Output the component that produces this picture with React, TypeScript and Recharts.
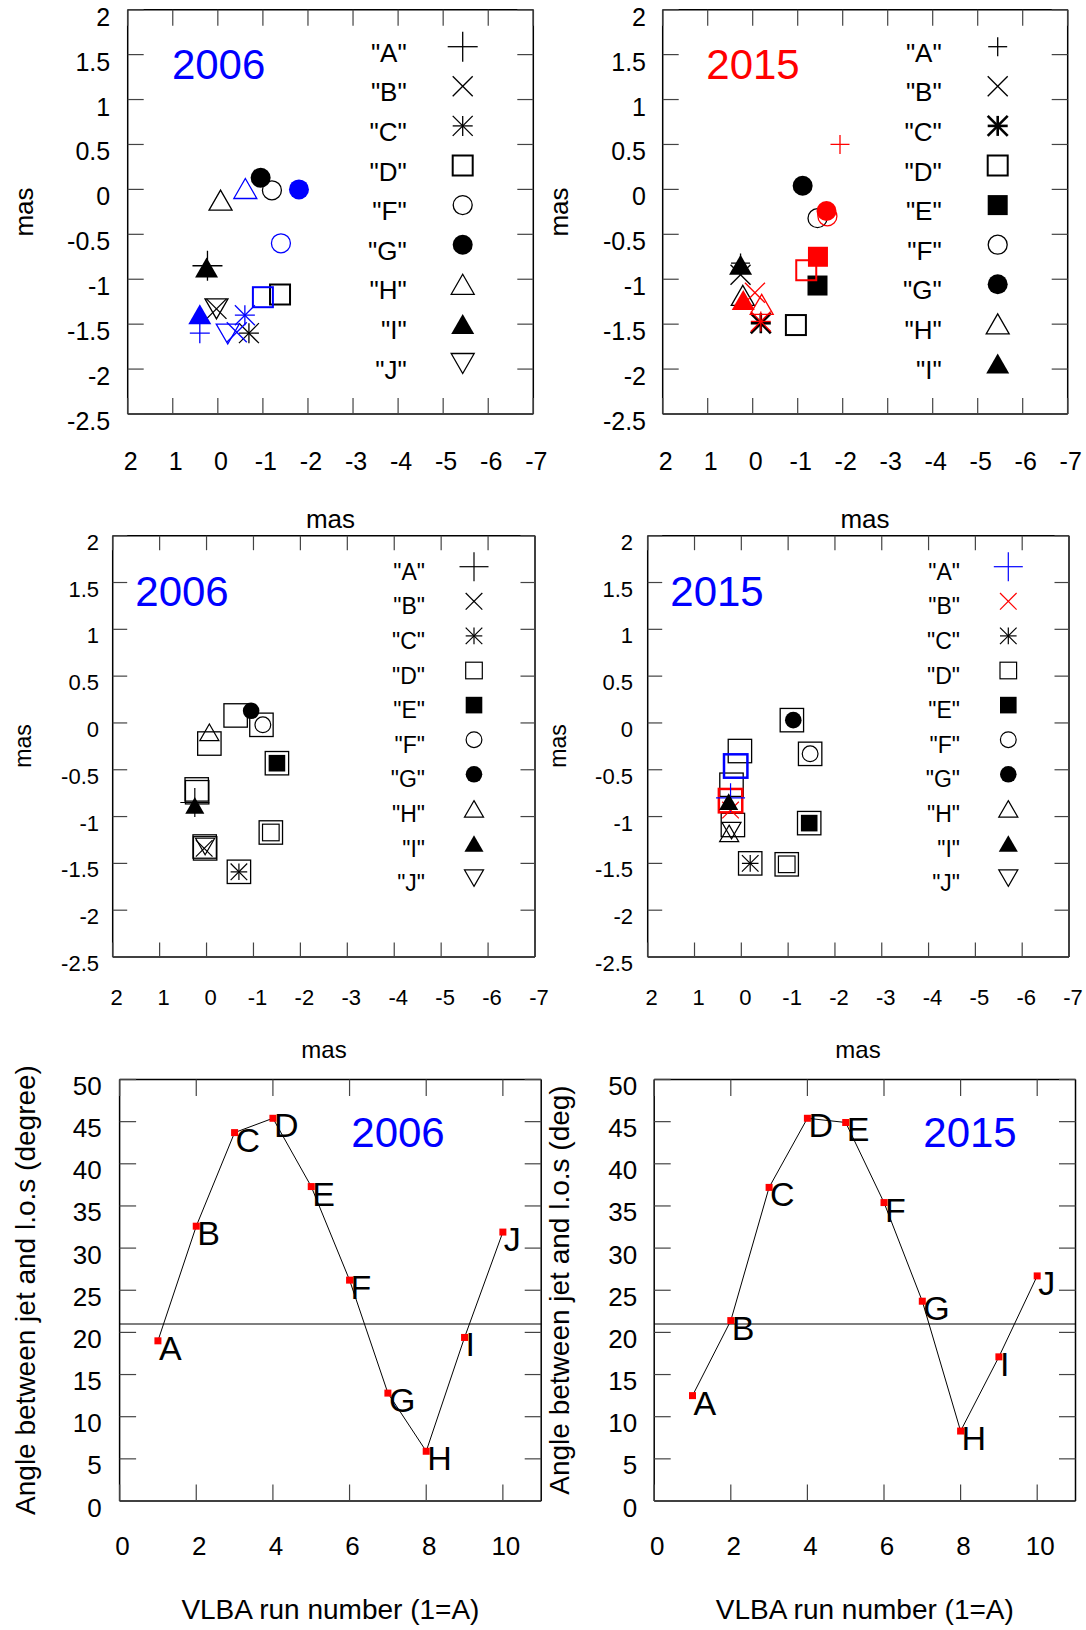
import React from "react";
import {
  ScatterChart,
  Scatter,
  LineChart,
  Line,
  XAxis,
  YAxis,
  ReferenceLine,
  LabelList,
} from "recharts";

const FONT = '"Liberation Sans", Arial, Helvetica, sans-serif';
const BLUE = "#0000ff";
const RED = "#ff0000";
const TICK = "#444";

// component names
const LETTERS = ["A", "B", "C", "D", "E", "F", "G", "H", "I", "J"];

// axis ticks
const MAS_X_TICKS = [2, 1, 0, -1, -2, -3, -4, -5, -6, -7];
const MAS_Y_TICKS = [2, 1.5, 1, 0.5, 0, -0.5, -1, -1.5, -2, -2.5];
const RUN_TICKS = [0, 2, 4, 6, 8, 10];
const ANGLE_TICKS = [0, 5, 10, 15, 20, 25, 30, 35, 40, 45, 50];
const CRITICAL_ANGLE = 21;

// 2006 component offsets (mas), two fits
const map06Letters = ["A", "B", "C", "D", "F", "G", "H", "I", "J"];
const map06BlackX = [0.23, 0.03, -0.69, -1.38, -1.2, -0.95, -0.06, 0.25, 0.03];
const map06BlackY = [-0.85, -1.33, -1.6, -1.17, -0.01, 0.13, -0.12, -0.87, -1.33];
const map06BlueX = [0.4, -0.42, -0.6, -1.0, -1.4, -1.8, -0.61, 0.4, -0.22];
const map06BlueY = [-1.6, -1.59, -1.4, -1.2, -0.6, 0.0, 0.01, -1.39, -1.61];

// 2015 component offsets (mas), two fits
const map15Letters = ["A", "B", "C", "D", "E", "F", "G", "H", "I"];
const map15BlackX = [0.27, 0.27, -0.18, -0.96, -1.44, -1.44, -1.11, 0.22, 0.27];
const map15BlackY = [-0.82, -0.95, -1.49, -1.51, -1.07, -0.32, 0.04, -1.18, -0.84];
const map15RedX = [-1.94, -0.05, -0.18, -1.19, -1.45, -1.66, -1.64, -0.2, 0.21];
const map15RedY = [0.5, -1.15, -1.47, -0.9, -0.75, -0.3, -0.24, -1.28, -1.23];

// 2006 model positions with box markers
const fit06X = [0.25, 0.05, -0.69, -1.37, -1.5, -1.2, -0.95, -0.06, 0.25, 0.03];
const fit06Y = [-0.85, -1.34, -1.59, -1.17, -0.43, -0.02, 0.13, -0.1, -0.88, -1.32];
const box06X = [-0.62, -1.17, -0.06, -1.5, 0.21, 0.2, -1.37, 0.04, 0.03, -0.69];
const box06Y = [0.08, -0.02, -0.22, -0.43, -0.71, -0.74, -1.17, -1.32, -1.34, -1.59];

// 2015 model positions with box markers
const fit15X = [0.23, 0.23, -0.19, -0.97, -1.45, -1.47, -1.11, 0.26, 0.27, 0.21];
const fit15Y = [-0.8, -0.93, -1.5, -1.51, -1.07, -0.33, 0.03, -1.18, -0.84, -1.15];
const box15X = [-1.08, -1.47, -1.45, -0.97, -0.19, 0.03, 0.21, 0.18];
const box15Y = [0.03, -0.33, -1.07, -1.51, -1.5, -0.3, -0.66, -1.09];
const box15BlueX = [0.12];
const box15BlueY = [-0.46];
const box15RedX = [0.23];
const box15RedY = [-0.83];

// jet angle to line of sight per VLBA run
const runs = [1, 2, 3, 4, 5, 6, 7, 8, 9, 10];
const angle06 = [19.0, 32.6, 43.7, 45.4, 37.3, 26.2, 12.8, 5.9, 19.4, 31.9];
const angle15 = [12.5, 21.4, 37.2, 45.4, 44.9, 35.4, 23.7, 8.3, 17.1, 26.7];

const KIND: Record<string, string> = {
  A: "plus",
  B: "cross",
  C: "star",
  D: "square",
  E: "squareFill",
  F: "circle",
  G: "circleFill",
  H: "tri",
  I: "triFill",
  J: "triDown",
};

type Pt = { x: number; y: number; letter: string };
type Plot = { left: number; top: number; right: number; bottom: number };
type Box = { x: number; y: number; w: number; h: number };
type MarkStyle = { r: number; plus: number; sw: number; sq: number; star: number };

const pts = (letters: string[], xs: number[], ys: number[]): Pt[] =>
  xs.map((x, i) => ({ x, y: ys[i], letter: letters[i] || "" }));

const ST_06: MarkStyle = { r: 10, plus: 15, sw: 1.3, sq: 2, star: 1.3 };
const ST_06_BLUE: MarkStyle = { ...ST_06, plus: 10 };
const ST_15: MarkStyle = { r: 10, plus: 9.5, sw: 1.3, sq: 2, star: 2.6 };
const ST_15_RED: MarkStyle = { ...ST_15, star: 1.3 };
const ST_MID: MarkStyle = { r: 8.3, plus: 14.5, sw: 1.2, sq: 1.2, star: 1.2 };

function Mark({
  kind,
  cx,
  cy,
  color,
  st,
}: {
  kind: string;
  cx: number;
  cy: number;
  color: string;
  st: MarkStyle;
}) {
  const r = st.r;
  const w = r * 1.15;
  switch (kind) {
    case "plus":
      return (
        <g stroke={color} strokeWidth={st.sw}>
          <line x1={cx - st.plus} y1={cy} x2={cx + st.plus} y2={cy} />
          <line x1={cx} y1={cy - st.plus} x2={cx} y2={cy + st.plus} />
        </g>
      );
    case "cross":
      return (
        <g stroke={color} strokeWidth={st.sw}>
          <line x1={cx - r} y1={cy - r} x2={cx + r} y2={cy + r} />
          <line x1={cx - r} y1={cy + r} x2={cx + r} y2={cy - r} />
        </g>
      );
    case "star":
      return (
        <g stroke={color} strokeWidth={st.star}>
          <line x1={cx - r} y1={cy} x2={cx + r} y2={cy} />
          <line x1={cx} y1={cy - r} x2={cx} y2={cy + r} />
          <line x1={cx - r} y1={cy - r} x2={cx + r} y2={cy + r} />
          <line x1={cx - r} y1={cy + r} x2={cx + r} y2={cy - r} />
        </g>
      );
    case "square":
      return (
        <rect x={cx - r} y={cy - r} width={2 * r} height={2 * r} fill="none" stroke={color} strokeWidth={st.sq} />
      );
    case "squareFill":
      return <rect x={cx - r} y={cy - r} width={2 * r} height={2 * r} fill={color} />;
    case "circle":
      return <circle cx={cx} cy={cy} r={r * 0.95} fill="none" stroke={color} strokeWidth={st.sw} />;
    case "circleFill":
      return <circle cx={cx} cy={cy} r={r} fill={color} />;
    case "tri":
      return (
        <polygon
          points={`${cx},${cy - r} ${cx + w},${cy + r} ${cx - w},${cy + r}`}
          fill="none"
          stroke={color}
          strokeWidth={st.sw}
        />
      );
    case "triFill":
      return <polygon points={`${cx},${cy - r} ${cx + w},${cy + r} ${cx - w},${cy + r}`} fill={color} />;
    case "triDown":
      return (
        <polygon
          points={`${cx},${cy + r} ${cx + w},${cy - r} ${cx - w},${cy - r}`}
          fill="none"
          stroke={color}
          strokeWidth={st.sw}
        />
      );
    default:
      return <g />;
  }
}

const symbolShape =
  (st: MarkStyle, colorOf: (l: string) => string) =>
  (p: any) =>
    <Mark kind={KIND[p.payload.letter]} cx={p.cx} cy={p.cy} color={colorOf(p.payload.letter)} st={st} />;

const boxShape = (half: number, color: string, sw: number) => (p: any) =>
  <rect x={p.cx - half} y={p.cy - half} width={2 * half} height={2 * half} fill="none" stroke={color} strokeWidth={sw} />;

const black = () => "#000";

type AxisCfg = {
  len: number;
  fs: number;
  xBase: number;
  xDx: number;
  yGap: number;
  yBase: number;
};

const fmt = (v: any) => String(v);

// tick renderers: the label plus an inward tick mark
const bottomTick = (c: AxisCfg) => (p: any) =>
  (
    <g>
      <line x1={p.x} y1={p.y} x2={p.x} y2={p.y - c.len} stroke={TICK} strokeWidth={1.2} />
      <text x={p.x + c.xDx} y={p.y + c.xBase} textAnchor="middle" fontSize={c.fs} fontFamily={FONT} fill="#000">
        {fmt(p.payload.value)}
      </text>
    </g>
  );

const leftTick = (c: AxisCfg) => (p: any) =>
  (
    <g>
      <line x1={p.x} y1={p.y} x2={p.x + c.len} y2={p.y} stroke={TICK} strokeWidth={1.2} />
      <text x={p.x - c.yGap} y={p.y + c.yBase} textAnchor="end" fontSize={c.fs} fontFamily={FONT} fill="#000">
        {fmt(p.payload.value)}
      </text>
    </g>
  );

const topTick = (len: number) => (p: any) =>
  <line x1={p.x} y1={p.y} x2={p.x} y2={p.y + len} stroke={TICK} strokeWidth={1.2} />;

const rightTick = (len: number) => (p: any) =>
  <line x1={p.x} y1={p.y} x2={p.x - len} y2={p.y} stroke={TICK} strokeWidth={1.2} />;

// every axis takes 1px of room, so the margins leave that out
const AX = 1;
const marginOf = (box: Box, plot: Plot) => ({
  left: plot.left - box.x - AX,
  top: plot.top - box.y - AX,
  right: box.x + box.w - plot.right - AX,
  bottom: box.y + box.h - plot.bottom - AX,
});

const FRAME = { stroke: "#000", strokeWidth: 1.5 };

const axisBase = {
  type: "number" as const,
  interval: 0 as const,
  tickSize: 0,
  tickMargin: 0,
  axisLine: FRAME,
  tickLine: false,
  allowDataOverflow: true,
};

type Series = { key: string; data: Pt[]; shape: (p: any) => React.ReactElement };

function MapPanel({ box, plot, cfg, series }: { box: Box; plot: Plot; cfg: AxisCfg; series: Series[] }) {
  return (
    <div style={{ position: "absolute", left: box.x, top: box.y }}>
      <ScatterChart width={box.w} height={box.h} margin={marginOf(box, plot)}>
        <XAxis
          {...axisBase}
          xAxisId="b"
          dataKey="x"
          domain={[-7, 2]}
          reversed
          ticks={MAS_X_TICKS}
          height={AX}
          tick={bottomTick(cfg)}
        />
        <XAxis
          {...axisBase}
          xAxisId="t"
          orientation="top"
          dataKey="x"
          domain={[-7, 2]}
          reversed
          ticks={MAS_X_TICKS}
          height={AX}
          tick={topTick(cfg.len)}
        />
        <YAxis
          {...axisBase}
          yAxisId="l"
          dataKey="y"
          domain={[-2.5, 2]}
          ticks={MAS_Y_TICKS}
          width={AX}
          tick={leftTick(cfg)}
        />
        <YAxis
          {...axisBase}
          yAxisId="r"
          orientation="right"
          dataKey="y"
          domain={[-2.5, 2]}
          ticks={MAS_Y_TICKS}
          width={AX}
          tick={rightTick(cfg.len)}
        />
        {series.map((s) => (
          <Scatter
            key={s.key}
            xAxisId="b"
            yAxisId="l"
            data={s.data}
            shape={s.shape}
            isAnimationActive={false}
          />
        ))}
      </ScatterChart>
    </div>
  );
}

const redDot = (p: any) => (
  <rect key={`dot-${p.index}`} x={p.cx - 3.5} y={p.cy - 3.5} width={7} height={7} fill={RED} />
);

const letterLabel = (p: any) => {
  const x = p.x ?? p.viewBox?.x;
  const y = p.y ?? p.viewBox?.y;
  return (
    <text key={`lab-${p.index}`} x={x + 1} y={y + 19} fontSize={34} fontFamily={FONT} fill="#000">
      {p.value}
    </text>
  );
};

function AnglePanel({ box, plot, cfg, angles }: { box: Box; plot: Plot; cfg: AxisCfg; angles: number[] }) {
  const data = runs.map((run, i) => ({ run, angle: angles[i], letter: LETTERS[i] }));
  return (
    <div style={{ position: "absolute", left: box.x, top: box.y }}>
      <LineChart width={box.w} height={box.h} margin={marginOf(box, plot)} data={data}>
        <XAxis
          {...axisBase}
          xAxisId="b"
          dataKey="run"
          domain={[0, 11]}
          ticks={RUN_TICKS}
          height={AX}
          tick={bottomTick(cfg)}
        />
        <XAxis
          {...axisBase}
          xAxisId="t"
          orientation="top"
          dataKey="run"
          domain={[0, 11]}
          ticks={RUN_TICKS}
          height={AX}
          tick={topTick(cfg.len)}
        />
        <YAxis
          {...axisBase}
          yAxisId="l"
          domain={[0, 50]}
          ticks={ANGLE_TICKS}
          width={AX}
          tick={leftTick(cfg)}
        />
        <YAxis
          {...axisBase}
          yAxisId="r"
          orientation="right"
          domain={[0, 50]}
          ticks={ANGLE_TICKS}
          width={AX}
          tick={rightTick(cfg.len)}
        />
        <ReferenceLine xAxisId="b" yAxisId="l" y={CRITICAL_ANGLE} stroke="#555" strokeWidth={1.5} />
        <Line
          xAxisId="b"
          yAxisId="l"
          type="linear"
          dataKey="angle"
          stroke="#000"
          strokeWidth={1}
          dot={redDot}
          activeDot={false}
          isAnimationActive={false}
        >
          <LabelList dataKey="letter" content={letterLabel} />
        </Line>
      </LineChart>
    </div>
  );
}

function Legend({
  letters,
  labelRight,
  symX,
  y0,
  step,
  fs,
  dy,
  st,
  colorOf,
}: {
  letters: string[];
  labelRight: number;
  symX: number;
  y0: number;
  step: number;
  fs: number;
  dy: number;
  st: MarkStyle;
  colorOf: (l: string) => string;
}) {
  return (
    <g>
      {letters.map((l, i) => (
        <g key={l}>
          <text x={labelRight} y={y0 + i * step + dy} textAnchor="end" fontSize={fs}>
            {`"${l}"`}
          </text>
          <Mark kind={KIND[l]} cx={symX} cy={y0 + i * step} color={colorOf(l)} st={st} />
        </g>
      ))}
    </g>
  );
}

const midColor = (l: string) => (l === "A" ? BLUE : l === "B" ? RED : "#000");

function Overlay() {
  const yTitle = (x: number, y: number, fs: number, t: string) => (
    <text transform={`rotate(-90 ${x} ${y})`} x={x} y={y} textAnchor="middle" fontSize={fs}>
      {t}
    </text>
  );
  return (
    <svg
      width={1086}
      height={1630}
      style={{ position: "absolute", left: 0, top: 0, pointerEvents: "none" }}
      fontFamily={FONT}
      fill="#000"
    >
      {/* epoch titles */}
      <text x={218.6} y={78.5} textAnchor="middle" fontSize={42} fill={BLUE}>2006</text>
      <text x={753} y={78.5} textAnchor="middle" fontSize={42} fill={RED}>2015</text>
      <text x={182} y={606} textAnchor="middle" fontSize={42} fill={BLUE}>2006</text>
      <text x={717} y={606} textAnchor="middle" fontSize={42} fill={BLUE}>2015</text>
      <text x={398} y={1147} textAnchor="middle" fontSize={42} fill={BLUE}>2006</text>
      <text x={970} y={1147} textAnchor="middle" fontSize={42} fill={BLUE}>2015</text>

      {/* axis titles */}
      {yTitle(33, 212, 26, "mas")}
      {yTitle(568, 212, 26, "mas")}
      <text x={330.5} y={528} textAnchor="middle" fontSize={26}>mas</text>
      <text x={865} y={528} textAnchor="middle" fontSize={26}>mas</text>
      {yTitle(31, 746, 23, "mas")}
      {yTitle(566, 746, 23, "mas")}
      <text x={324} y={1058} textAnchor="middle" fontSize={24}>mas</text>
      <text x={858} y={1058} textAnchor="middle" fontSize={24}>mas</text>
      {yTitle(34.5, 1290, 28, "Angle between jet and l.o.s (degree)")}
      {yTitle(569, 1290, 28, "Angle between jet and l.o.s (deg)")}
      <text x={330.4} y={1619} textAnchor="middle" fontSize={28}>VLBA run number (1=A)</text>
      <text x={864.8} y={1619} textAnchor="middle" fontSize={28}>VLBA run number (1=A)</text>

      {/* keys */}
      <Legend letters={map06Letters} labelRight={406.7} symX={462.7} y0={46.7} step={39.6} fs={26} dy={15} st={ST_06} colorOf={black} />
      <Legend letters={map15Letters} labelRight={941.7} symX={997.7} y0={46.7} step={39.6} fs={26} dy={15} st={ST_15} colorOf={black} />
      <Legend letters={LETTERS} labelRight={425} symX={474} y0={566.7} step={34.6} fs={23} dy={13} st={ST_MID} colorOf={black} />
      <Legend letters={LETTERS} labelRight={960} symX={1008.3} y0={566.7} step={34.6} fs={23} dy={13} st={ST_MID} colorOf={midColor} />
    </svg>
  );
}

const CFG_TOP: AxisCfg = { len: 16, fs: 25, xBase: 56, xDx: 3, yGap: 17.5, yBase: 16 };
const CFG_TOP_R: AxisCfg = { ...CFG_TOP, yGap: 16.7 };
const CFG_MID: AxisCfg = { len: 14.5, fs: 22, xBase: 48, xDx: 4, yGap: 13.7, yBase: 14 };
const CFG_MID_R: AxisCfg = { ...CFG_MID, yGap: 14.7 };
const CFG_BOT: AxisCfg = { len: 16.5, fs: 26, xBase: 54, xDx: 3, yGap: 18, yBase: 15.5 };
const CFG_BOT_R: AxisCfg = { ...CFG_BOT, yGap: 17 };

export default function App() {
  const blue = () => BLUE;
  const red = () => RED;
  return (
    <div
      style={{
        position: "absolute",
        left: 0,
        top: 0,
        width: 1086,
        height: 1630,
        background: "#fff",
        fontFamily: FONT,
      }}
    >
      <MapPanel
        box={{ x: 0, y: 0, w: 560, h: 480 }}
        plot={{ left: 127.7, top: 9.7, right: 533.3, bottom: 414 }}
        cfg={CFG_TOP}
        series={[
          { key: "k", data: pts(map06Letters, map06BlackX, map06BlackY), shape: symbolShape(ST_06, black) },
          { key: "b", data: pts(map06Letters, map06BlueX, map06BlueY), shape: symbolShape(ST_06_BLUE, blue) },
        ]}
      />
      <MapPanel
        box={{ x: 545, y: 0, w: 541, h: 480 }}
        plot={{ left: 662.7, top: 9.7, right: 1067.7, bottom: 414 }}
        cfg={CFG_TOP_R}
        series={[
          { key: "k", data: pts(map15Letters, map15BlackX, map15BlackY), shape: symbolShape(ST_15, black) },
          { key: "r", data: pts(map15Letters, map15RedX, map15RedY), shape: symbolShape(ST_15_RED, red) },
        ]}
      />
      <MapPanel
        box={{ x: 0, y: 520, w: 560, h: 495 }}
        plot={{ left: 112.7, top: 535.7, right: 535, bottom: 957 }}
        cfg={CFG_MID}
        series={[
          { key: "box", data: pts([], box06X, box06Y), shape: boxShape(11.7, "#000", 1.3) },
          { key: "fit", data: pts(LETTERS, fit06X, fit06Y), shape: symbolShape(ST_MID, black) },
        ]}
      />
      <MapPanel
        box={{ x: 545, y: 520, w: 541, h: 495 }}
        plot={{ left: 647.7, top: 535.7, right: 1069, bottom: 957 }}
        cfg={CFG_MID_R}
        series={[
          { key: "box", data: pts([], box15X, box15Y), shape: boxShape(11.7, "#000", 1.3) },
          { key: "boxB", data: pts([], box15BlueX, box15BlueY), shape: boxShape(11.7, BLUE, 2.5) },
          { key: "boxR", data: pts([], box15RedX, box15RedY), shape: boxShape(11.7, RED, 2.5) },
          { key: "fit", data: pts(LETTERS, fit15X, fit15Y), shape: symbolShape(ST_MID, midColor) },
        ]}
      />
      <AnglePanel
        box={{ x: 0, y: 1060, w: 560, h: 510 }}
        plot={{ left: 119.6, top: 1079.5, right: 541.2, bottom: 1501 }}
        cfg={CFG_BOT}
        angles={angle06}
      />
      <AnglePanel
        box={{ x: 545, y: 1060, w: 541, h: 510 }}
        plot={{ left: 654.2, top: 1079.5, right: 1075.5, bottom: 1501 }}
        cfg={CFG_BOT_R}
        angles={angle15}
      />
      <Overlay />
    </div>
  );
}
